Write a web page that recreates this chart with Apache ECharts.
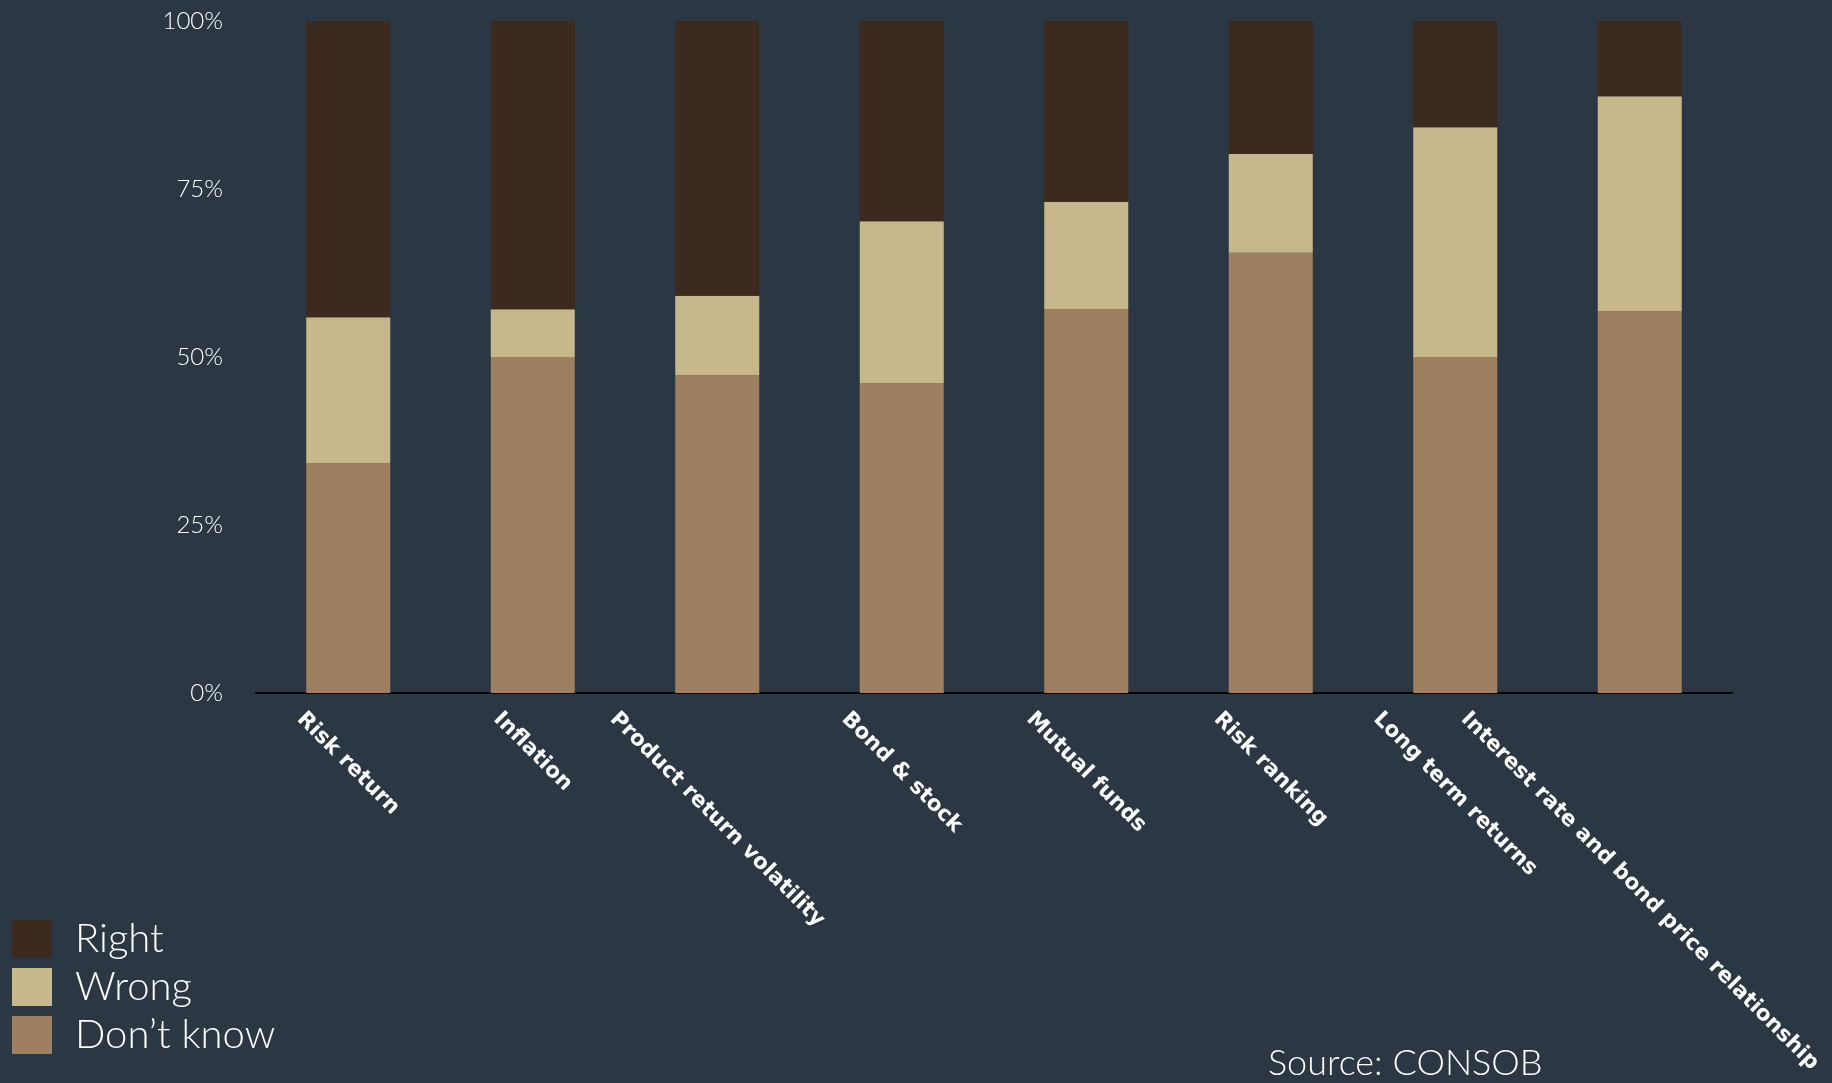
<!DOCTYPE html>
<html>
<head>
<meta charset="utf-8">
<title>Financial literacy answers</title>
<script src="https://cdn.jsdelivr.net/npm/echarts@6/dist/echarts.min.js"></script>
<style>
    html, body { margin: 0; padding: 0; background: #2c3744; }
    #main { width: 1832px; height: 1083px; }
</style>
</head>
<body>
<div id="main"></div>
<script>
// categories and shares (%)
var categories = ['Risk return', 'Inflation', 'Product return volatility', 'Bond & stock',
    'Mutual funds', 'Risk ranking', 'Long term returns', 'Interest rate and bond price relationship'];
var dontKnow = [34.2, 50.0, 47.3, 46.1, 57.1, 65.5, 50.0, 56.8];
var wrong = [21.7, 7.1, 11.8, 24.1, 16.0, 14.7, 34.2, 32.0];
var right = [44.1, 42.9, 40.9, 29.8, 26.9, 19.8, 15.8, 11.2];
var yTicks = [0, 25, 50, 75, 100];

var labelFont = 'bold 21.5px "DejaVu Sans", sans-serif';
var labelSize = 21.5;

var measureCtx = document.createElement('canvas').getContext('2d');
function textWidth(str) {
    measureCtx.font = labelFont;
    return measureCtx.measureText(str).width;
}

// rotated category labels, box centred under each bar
var labelData = [];
for (var i = 0; i < categories.length; i++) {
    labelData.push([i, 0]);
}

var myChart = echarts.init(document.getElementById('main'));

var option = {
    backgroundColor: '#2c3744',
    animation: false,
    title: {
        text: 'Source: CONSOB',
        left: 1268,
        top: 1045,
        padding: 0,
        textStyle: {
            color: '#ffffff',
            fontSize: 36,
            fontWeight: 300,
            fontFamily: 'Lato, "Open Sans", sans-serif'
        }
    },
    legend: {
        orient: 'vertical',
        left: 12,
        top: 919,
        padding: 0,
        itemWidth: 40,
        itemHeight: 38,
        itemGap: 8,
        icon: 'rect',
        data: ['Right', 'Wrong', 'Don\u2019t know'],
        textStyle: {
            color: '#ffffff',
            fontSize: 40,
            fontWeight: 300,
            lineHeight: 38,
            fontFamily: 'Lato, "Open Sans", sans-serif',
            padding: [0, 0, 0, 18]
        }
    },
    grid: {
        left: 256,
        right: 100,
        top: 21,
        bottom: 390
    },
    xAxis: {
        type: 'category',
        data: categories,
        axisTick: { show: false },
        axisLabel: { show: false },
        axisLine: {
            lineStyle: { color: '#000000', width: 2 }
        }
    },
    yAxis: {
        type: 'value',
        min: yTicks[0],
        max: yTicks[yTicks.length - 1],
        interval: 25,
        splitLine: { show: false },
        axisLine: { show: false },
        axisTick: { show: false },
        axisLabel: {
            formatter: '{value}%',
            margin: 33,
            color: '#ffffff',
            fontSize: 24,
            fontWeight: 300,
            fontFamily: 'Lato, "Open Sans", sans-serif'
        }
    },
    series: [
        {
            name: 'Don\u2019t know',
            type: 'bar',
            stack: 'total',
            barWidth: 84,
            itemStyle: { color: '#9e8060' },
            data: dontKnow
        },
        {
            name: 'Wrong',
            type: 'bar',
            stack: 'total',
            barWidth: 84,
            itemStyle: { color: '#c6b88b' },
            data: wrong
        },
        {
            name: 'Right',
            type: 'bar',
            stack: 'total',
            barWidth: 84,
            itemStyle: { color: '#3c2a1e' },
            data: right
        },
        {
            name: 'labels',
            type: 'custom',
            clip: false,
            silent: true,
            encode: { x: 0, y: 1 },
            data: labelData,
            renderItem: function (params, api) {
                var idx = api.value(0);
                var pt = api.coord([idx, 0]);
                var name = categories[idx];
                var w = textWidth(name);
                var s = Math.SQRT1_2;
                return {
                    type: 'text',
                    x: pt[0] - (w - labelSize) * s / 2,
                    y: pt[1] + 15,
                    rotation: -Math.PI / 4,
                    style: {
                        text: name,
                        font: labelFont,
                        fill: '#ffffff',
                        align: 'left',
                        verticalAlign: 'top'
                    }
                };
            }
        }
    ]
};

myChart.setOption(option, true);
window.onresize = myChart.resize;
</script>
</body>
</html>
